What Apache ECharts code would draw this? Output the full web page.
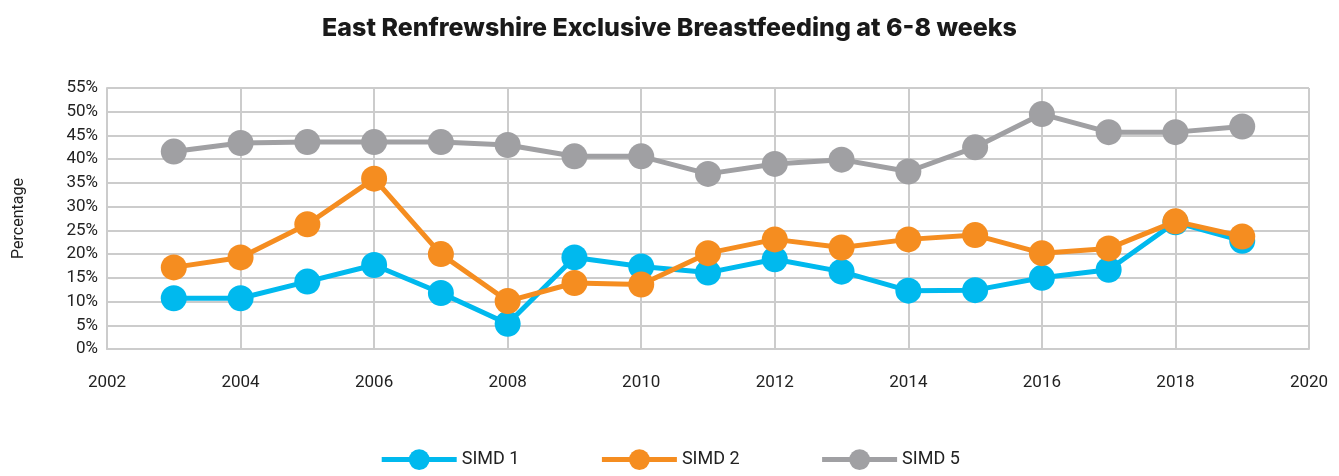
<!DOCTYPE html>
<html>
<head>
<meta charset="utf-8">
<script src="https://cdn.jsdelivr.net/npm/echarts@6/dist/echarts.min.js"></script>
<style>
  html, body { margin: 0; padding: 0; background: #fff; }
  #chart01 { width: 1339px; height: 476px; }
</style>
</head>
<body>
<div id="chart01"></div>
<script>
// data
var years = [2003, 2004, 2005, 2006, 2007, 2008, 2009, 2010, 2011, 2012, 2013, 2014, 2015, 2016, 2017, 2018, 2019];
var simd1 = [10.7, 10.7, 14.2, 17.7, 11.8, 5.3, 19.3, 17.4, 16.1, 18.9, 16.3, 12.3, 12.4, 15.0, 16.7, 26.7, 22.8];
var simd2 = [17.2, 19.3, 26.3, 35.9, 20.0, 10.1, 13.9, 13.6, 20.2, 23.1, 21.4, 23.1, 24.0, 20.2, 21.2, 26.9, 23.7];
var simd5 = [41.6, 43.4, 43.6, 43.6, 43.6, 43.0, 40.6, 40.6, 36.9, 39.0, 39.9, 37.4, 42.5, 49.5, 45.7, 45.7, 46.9];
var seriesNames = ["SIMD 1", "SIMD 2", "SIMD 5"];
var colors = ["#00b9ee", "#f58d20", "#a0a0a3"];

function pairs(vals) {
    return years.map(function (y, i) { return [y, vals[i]]; });
}

var myChart01 = echarts.init(document.getElementById('chart01'));
var font = "Roboto";
var option = {
    color: colors,
    title: {
        text: "East Renfrewshire Exclusive Breastfeeding at 6-8 weeks",
        left: "center",
        top: 11,
        textStyle: {
            fontFamily: "Inter",
            fontWeight: 800,
            fontSize: 25,
            color: "#1a1a1a"
        }
    },
    legend: {
        data: seriesNames,
        bottom: 1,
        left: "center",
        itemWidth: 75,
        itemHeight: 26,
        itemGap: 80,
        lineStyle: { width: 5 },
        textStyle: { fontFamily: font, fontSize: 18, color: "#222" }
    },
    grid: {
        left: 107,
        right: 30,
        top: 88,
        bottom: 127
    },
    xAxis: {
        type: "value",
        min: 2002,
        max: 2020,
        interval: 2,
        axisLine: { show: true, lineStyle: { color: "#cccccc", width: 2 } },
        axisTick: { show: false },
        splitLine: { show: true, lineStyle: { color: "#cccccc", width: 2 } },
        axisLabel: {
            margin: 25, fontFamily: font, fontSize: 17, color: "#222",
            formatter: function (v) { return String(v); }
        }
    },
    yAxis: {
        type: "value",
        min: 0,
        max: 55,
        interval: 5,
        name: "Percentage",
        nameLocation: "middle",
        nameGap: 80,
        nameTextStyle: { fontFamily: font, fontSize: 16, color: "#222" },
        axisLine: { show: true, lineStyle: { color: "#cccccc", width: 2 } },
        axisTick: { show: false },
        splitLine: { show: true, lineStyle: { color: "#cccccc", width: 2 } },
        axisLabel: { margin: 9, fontFamily: font, fontSize: 17, color: "#222", formatter: "{value}%" }
    },
    series: [
        { name: seriesNames[0], type: "line", data: pairs(simd1) },
        { name: seriesNames[1], type: "line", data: pairs(simd2) },
        { name: seriesNames[2], type: "line", data: pairs(simd5) }
    ].map(function (s, i) {
        s.symbol = "circle";
        s.symbolSize = 26;
        s.lineStyle = { width: 5, color: colors[i] };
        s.itemStyle = { color: colors[i] };
        s.z = 2 + i;
        s.animation = false;
        return s;
    })
};
myChart01.setOption(option);
</script>
</body>
</html>
